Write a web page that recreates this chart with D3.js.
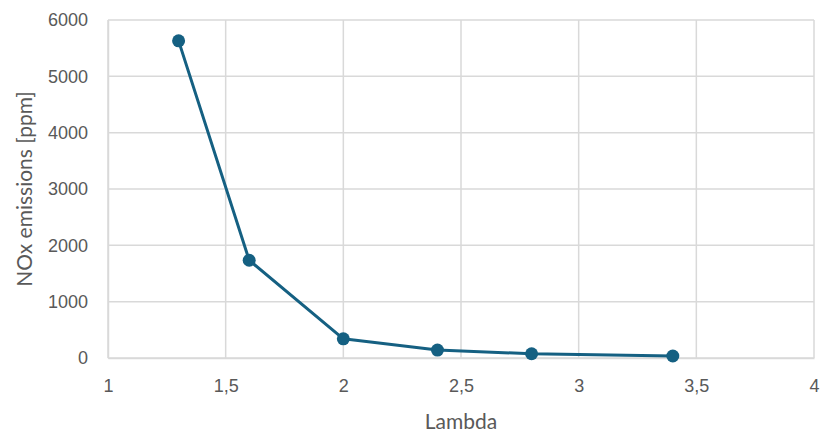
<!DOCTYPE html>
<html>
<head>
<meta charset="utf-8">
<script src="https://cdn.jsdelivr.net/npm/d3@7"></script>
<style>
  html, body { margin: 0; padding: 0; background: #fff; }
  svg { display: block; }
</style>
</head>
<body>
<svg id="chart" width="830" height="434"></svg>
<script>
// NOx emissions versus air ratio (lambda)
const lambdaValues = [1.3, 1.6, 2.0, 2.4, 2.8, 3.4];
const noxValues = [5630, 1735, 340, 140, 75, 35];
const xTicks = [1, 1.5, 2, 2.5, 3, 3.5, 4];
const yTicks = [0, 1000, 2000, 3000, 4000, 5000, 6000];

const svg = d3.select("#chart");
const margin = { left: 108, right: 16, top: 20, bottom: 76 };
const W = 830, H = 434;

const x = d3.scaleLinear().domain([1, 4]).range([margin.left, W - margin.right]);
const y = d3.scaleLinear().domain([0, 6000]).range([H - margin.bottom, margin.top]);

const gridColor = "#d9d9d9";
const textColor = "#595959";
const lineColor = "#156082";

// grid
svg.append("g").selectAll("line").data(yTicks).join("line")
  .attr("x1", x(1)).attr("x2", x(4))
  .attr("y1", d => y(d)).attr("y2", d => y(d))
  .attr("stroke", gridColor).attr("stroke-width", 1.5);
svg.append("g").selectAll("line").data(xTicks).join("line")
  .attr("x1", d => x(d)).attr("x2", d => x(d))
  .attr("y1", y(0)).attr("y2", y(6000))
  .attr("stroke", gridColor).attr("stroke-width", 1.5);

// axes with tick labels
const fmtX = d => String(d).replace(".", ",");
const fmtY = d => String(d);
const xAxis = svg.append("g").attr("transform", `translate(0,${y(0)})`)
  .call(d3.axisBottom(x).tickValues(xTicks).tickFormat(fmtX).tickSize(0).tickPadding(21));
xAxis.select(".domain").attr("stroke", gridColor).attr("stroke-width", 1.5);
const yAxis = svg.append("g").attr("transform", `translate(${x(1)},0)`)
  .call(d3.axisLeft(y).tickValues(yTicks).tickFormat(fmtY).tickSize(0).tickPadding(20));
yAxis.select(".domain").attr("stroke", gridColor).attr("stroke-width", 1.5);
svg.selectAll(".tick text")
  .attr("fill", textColor)
  .style("font-family", "'Liberation Sans', Arial, sans-serif")
  .style("font-size", "18px");

// series
svg.append("path")
  .datum(lambdaValues.map((l, i) => [l, noxValues[i]]))
  .attr("fill", "none")
  .attr("stroke", lineColor)
  .attr("stroke-width", 3)
  .attr("stroke-linejoin", "round")
  .attr("d", d3.line().x(d => x(d[0])).y(d => y(d[1])));
svg.append("g").selectAll("circle").data(lambdaValues).join("circle")
  .attr("cx", d => x(d))
  .attr("cy", (d, i) => y(noxValues[i]))
  .attr("r", 6.5)
  .attr("fill", lineColor);

// axis titles
svg.append("text")
  .attr("x", (x(1) + x(4)) / 2).attr("y", 429)
  .attr("text-anchor", "middle")
  .attr("fill", textColor)
  .style("font-family", "Lato, sans-serif")
  .style("font-size", "21px")
  .text("Lambda");
svg.append("text")
  .attr("transform", `translate(32,${(y(0) + y(6000)) / 2}) rotate(-90)`)
  .attr("text-anchor", "middle")
  .attr("fill", textColor)
  .style("font-family", "Lato, sans-serif")
  .style("font-size", "21px")
  .text("NOx emissions [ppm]");
</script>
</body>
</html>
